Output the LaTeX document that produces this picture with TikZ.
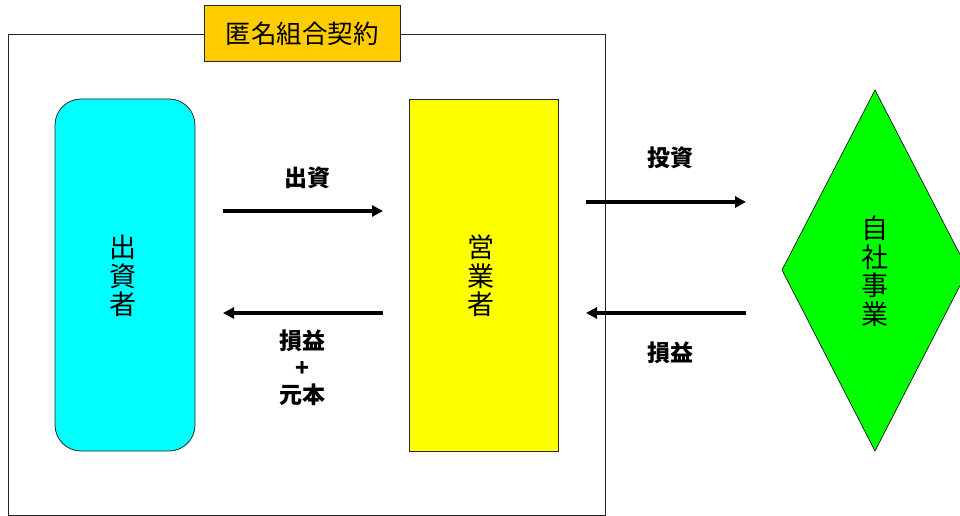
\documentclass[tikz,border=0pt]{standalone}
\usepackage{fontspec}
\newfontfamily\cjk{Noto Sans CJK JP}
\usetikzlibrary{shapes.geometric,arrows.meta}
\tikzset{
  lbl/.style={font=\cjk\bfseries\fontsize{23}{27}\selectfont, inner sep=0pt, align=center},
  vtext/.style={font=\cjk\fontsize{27}{28.5}\selectfont, align=center, inner sep=0pt},
  flow/.style={line width=3.4pt, -{Triangle[length=11pt,width=11pt]}},
}
\begin{document}
\begin{tikzpicture}[x=1pt,y=-1pt]
\useasboundingbox (0,0) rectangle (960,516);
% contract frame
\draw[line width=1pt, draw=black!85] (8,35) rectangle (605,515);
\node[draw=black!85, line width=1pt, fill={rgb,255:red,255;green,204;blue,0}, minimum width=196pt, minimum height=56pt, inner sep=0pt, font=\cjk\fontsize{25.5}{28}\selectfont] (title) at (302,34) {匿名組合契約};
% investor
\node[draw=black!85, line width=0.8pt, fill={rgb,255:red,0;green,255;blue,255}, rounded corners=26pt, minimum width=140pt, minimum height=352pt, inner sep=0pt] (inv) at (125,275) {};
\node[vtext] (invt) at (123,276) {出\\資\\者};
% operator
\node[draw=black!85, line width=0.8pt, fill={rgb,255:red,255;green,255;blue,0}, minimum width=149pt, minimum height=352pt, inner sep=0pt] (op) at (483.5,275) {};
\node[vtext] (opt) at (481,276) {営\\業\\者};
% business diamond
\coordinate (dT) at (875,90);
\coordinate (dR) at (968,270);
\coordinate (dB) at (875,451);
\coordinate (dL) at (782,270);
\draw[fill={rgb,255:red,0;green,255;blue,0}, draw=black, line width=0.6pt] (dT) -- (dR) -- (dB) -- (dL) -- cycle;
\node[vtext] (biz) at (875,271) {自\\社\\事\\業};
% arrows left
\coordinate (a1s) at (223,211); \coordinate (a1e) at (383,211);
\coordinate (a2s) at (383,313); \coordinate (a2e) at (223,313);
\draw[flow] (a1s) -- (a1e);
\draw[flow] (a2s) -- (a2e);
\node[lbl] (l1) at (307,178) {出資};
\node[lbl] (l2) at (302,368) {損益\\+\\元本};
% arrows right
\coordinate (b1s) at (586,202); \coordinate (b1e) at (746,202);
\coordinate (b2s) at (746,313); \coordinate (b2e) at (586,313);
\draw[flow] (b1s) -- (b1e);
\draw[flow] (b2s) -- (b2e);
\node[lbl] (l3) at (670,158) {投資};
\node[lbl] (l4) at (670,353) {損益};
\end{tikzpicture}
\end{document}
